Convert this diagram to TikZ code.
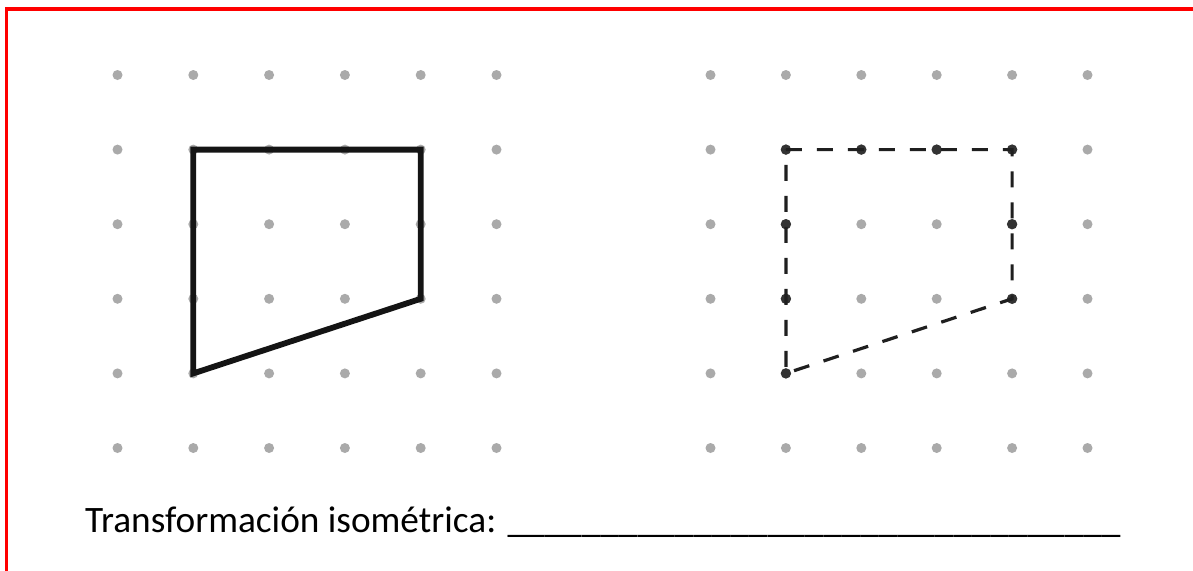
\documentclass[tikz,border=0pt]{standalone}
\usepackage{fontspec}
\setmainfont{Carlito}
\definecolor{dotgray}{HTML}{AAAAAA}
\definecolor{darkdot}{HTML}{333333}
\definecolor{framered}{HTML}{FF0000}
\tikzset{
  griddot/.style={fill=dotgray},
  ondot/.style={fill=darkdot},
  solidshape/.style={draw=black!92, line width=5.8pt, line join=miter},
  dashshape/.style={draw=black!88, line width=3.2pt, dash pattern=on 16pt off 15pt},
  frame/.style={draw=framered, line width=3.5pt},
  caption/.style={anchor=base west, inner sep=0pt, font=\fontsize{37.3}{40}\selectfont}
}
\begin{document}
\begin{tikzpicture}[x=1pt,y=-1pt]
\useasboundingbox (0,0) rectangle (1193,570);
\fill[white] (0,0) rectangle (1193,570);
% frame (only left and top edges visible)
\draw[frame] (6.5,575) -- (6.5,9) -- (1200,9);
% grid dots
\foreach \i in {0,...,5}{
  \foreach \j in {0,...,5}{
    \fill[griddot] ({117.5+75.8*\i},{75+74.6*\j}) circle (5pt);
    \fill[griddot] ({710.5+75.4*\i},{75+74.6*\j}) circle (5pt);
  }
}
% left solid shape
\coordinate (LA) at (193.3,149.6);
\coordinate (LB) at (420.7,149.6);
\coordinate (LC) at (420.7,298.8);
\coordinate (LD) at (193.3,373.4);
\draw[solidshape] (LA) -- (LB) -- (LC) -- (LD) -- cycle;
% right dashed shape
\coordinate (RA) at (785.9,149.6);
\coordinate (RB) at (1012.1,149.6);
\coordinate (RC) at (1012.1,298.8);
\coordinate (RD) at (785.9,373.4);
\foreach \p in {(785.9,149.6),(861.3,149.6),(936.7,149.6),(1012.1,149.6),(785.9,224.2),(1012.1,224.2),(785.9,298.8),(1012.1,298.8),(785.9,373.4)}{
  \fill[ondot] \p circle (5.2pt);
}
\draw[dashshape] (RA) -- (RB) -- (RC) -- (RD) -- cycle;
% caption
\node[caption] (cap) at (85,532) {Transformación isométrica: \_\_\_\_\_\_\_\_\_\_\_\_\_\_\_\_\_\_\_\_\_\_\_\_\_\_\_\_\_\_\_\_\_};
\end{tikzpicture}
\end{document}
